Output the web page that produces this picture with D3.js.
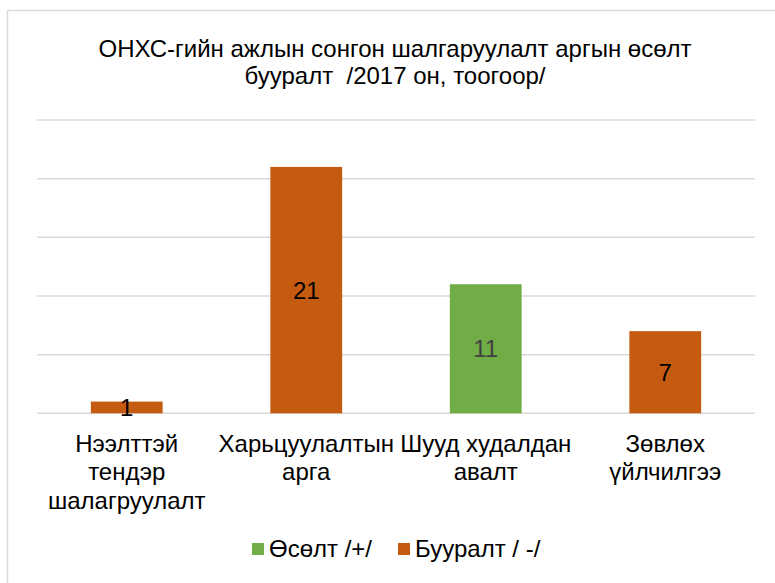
<!DOCTYPE html>
<html><head><meta charset="utf-8">
<script src="https://cdn.jsdelivr.net/npm/d3@7"></script>
<style>body{margin:0;background:#fff}svg{display:block;font-family:"Liberation Sans",Arial,sans-serif}</style>
</head><body><svg id="c" width="775" height="583"></svg>
<script>
const titleLines = ["ОНХС-гийн ажлын сонгон шалгаруулалт аргын өсөлт", "бууралт  /2017 он, тоогоор/"];
const categories = [
  ["Нээлттэй", "тендэр", "шалагруулалт"],
  ["Харьцуулалтын", "арга"],
  ["Шууд худалдан", "авалт"],
  ["Зөвлөх", "үйлчилгээ"]
];
const values = [1, 21, 11, 7];
const seriesOf = ["down", "down", "up", "down"];
const seriesNames = {up: "Өсөлт /+/", down: "Бууралт / -/"};
const yTicks = [0, 5, 10, 15, 20, 25];

const colors = {up: "#70AD47", down: "#C55A11"};
const FS = 24;
const svg = d3.select("#c");
svg.append("rect").attr("x", 7.5).attr("y", 10.5).attr("width", 800).attr("height", 600)
  .attr("fill", "#fff").attr("stroke", "#d9d9d9").attr("stroke-width", 1.5);

const x = d3.scaleBand().domain(d3.range(values.length)).range([37, 755]).paddingInner(0.6).paddingOuter(0.3);
const y = d3.scaleLinear().domain([0, 25]).range([413.3, 120]);

svg.append("g").selectAll("line").data(yTicks).join("line")
  .attr("x1", 37).attr("x2", 755).attr("y1", d => y(d)).attr("y2", d => y(d))
  .attr("stroke", "#d9d9d9").attr("stroke-width", 1.5);

svg.append("g").selectAll("rect").data(values).join("rect")
  .attr("x", (d, i) => x(i)).attr("width", x.bandwidth())
  .attr("y", d => y(d)).attr("height", d => y(0) - y(d))
  .attr("fill", (d, i) => colors[seriesOf[i]]);

svg.append("g").selectAll("text").data(values).join("text")
  .attr("x", (d, i) => x(i) + x.bandwidth() / 2)
  .attr("y", d => (y(d) + y(0)) / 2 + 8.5)
  .attr("text-anchor", "middle").attr("font-size", FS)
  .attr("fill", (d, i) => seriesOf[i] === "up" ? "#404040" : "#000")
  .text(d => d);

const title = svg.append("text").attr("text-anchor", "middle").attr("font-size", FS).attr("fill", "#000")
  .attr("xml:space", "preserve");
titleLines.forEach((t, i) => title.append("tspan").attr("x", 395).attr("y", 57 + i * 26.5).text(t));

const cat = svg.append("g");
categories.forEach((lines, i) => {
  const t = cat.append("text").attr("text-anchor", "middle").attr("font-size", FS).attr("fill", "#000");
  lines.forEach((l, j) => t.append("tspan").attr("x", x(i) + x.bandwidth() / 2).attr("y", 451.5 + j * 28.5).text(l));
});

const leg = svg.append("g");
const legItems = [{k: "up", x: 252}, {k: "down", x: 398}];
legItems.forEach(it => {
  leg.append("rect").attr("x", it.x).attr("y", 543).attr("width", 12).attr("height", 12).attr("fill", colors[it.k]);
  leg.append("text").attr("x", it.x + 17).attr("y", 557).attr("font-size", FS).attr("fill", "#000").text(seriesNames[it.k]);
});
</script></body></html>
